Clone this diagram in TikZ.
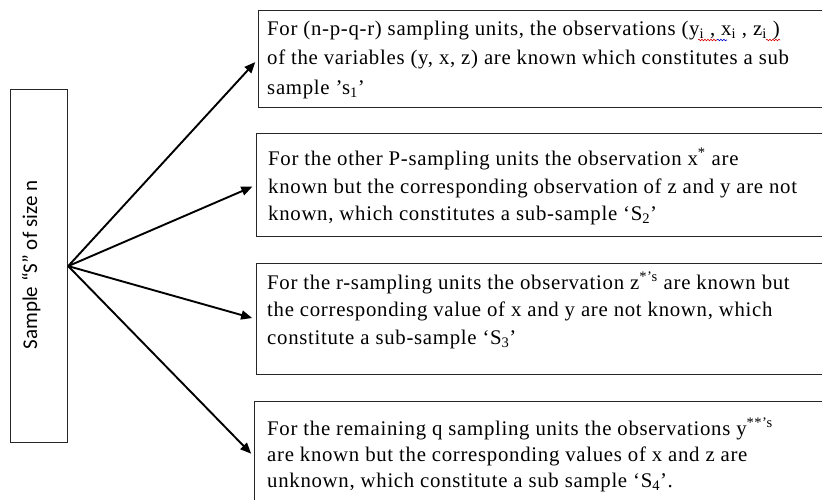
\documentclass[tikz,border=0pt]{standalone}
\usepackage{fontspec}
\setmainfont[LetterSpace=3.4]{Liberation Serif}
\newfontfamily\labelsans{Carlito}
\usetikzlibrary{arrows.meta,decorations.pathmorphing}
\begin{document}
\begin{tikzpicture}[x=1pt,y=-1pt,
  panel/.style={draw=black!85, line width=1.2pt, anchor=north west, inner sep=0pt},
  body/.style={anchor=base west, inner sep=0pt, align=left},
  link/.style={line width=1.9pt, -{Triangle[length=11pt,width=9pt]}, shorten >=4pt},
  squiggle/.style={red!85!black, line width=0.6pt, decorate,
    decoration={snake, amplitude=0.8pt, segment length=3pt}}]
\useasboundingbox (0,0) rectangle (822,499);
\clip (0,0) rectangle (822,499);

% source box with rotated label
\node[panel, minimum width=57pt, minimum height=353pt] (src) at (10,89) {};
\node[anchor=base, rotate=90, inner sep=0pt, font=\labelsans\fontsize{21}{21}\selectfont]
  (srclabel) at (37,265) {Sample “S” of size n};

% the four sub-sample boxes
\node[panel, minimum width=600pt, minimum height=97pt]  (b1) at (258,10) {};
\node[panel, minimum width=600pt, minimum height=103pt] (b2) at (256,133) {};
\node[panel, minimum width=600pt, minimum height=111pt] (b3) at (256,263) {};
\node[panel, minimum width=600pt, minimum height=110pt] (b4) at (254,401) {};

% text blocks, placed by the baseline of their last line
\node[body, font=\fontsize{20.8}{29.5}\selectfont] (t1) at (267,94)
  {For (n-p-q-r) sampling units, the observations (y\textsubscript{i} , x\textsubscript{i} , z\textsubscript{i} )\\
   of the variables (y, x, z) are known which constitutes a sub\\
   sample ’s\textsubscript{1}’};
\node[body, font=\fontsize{20.8}{27.5}\selectfont] (t2) at (268,220.5)
  {For the other P-sampling units the observation x\textsuperscript{*} are\\
   known but the corresponding observation of z and y are not\\
   known, which constitutes a sub-sample ‘S\textsubscript{2}’};
\node[body, font=\fontsize{20.8}{27.5}\selectfont] (t3) at (267,344)
  {For the r-sampling units the observation z\textsuperscript{*’s} are known but\\
   the corresponding value of x and y are not known, which\\
   constitute a sub-sample ‘S\textsubscript{3}’};
\node[body, font=\fontsize{20.8}{26}\selectfont] (t4) at (267,487)
  {For the remaining q sampling units the observations y\textsuperscript{**’s}\\
   are known but the corresponding values of x and z are\\
   unknown, which constitute a sub sample ‘S\textsubscript{4}’.};

% spell-check marks under the subscripted variables
\draw[squiggle] (698,40) -- (717,40);
\draw[squiggle, blue!80!black] (717,40) -- (727,40);
\draw[squiggle] (766,40) -- (780,40);

% connectors
\draw[link] (src.east) -- (b1.west);
\draw[link] (src.east) -- (b2.west);
\draw[link] (src.east) -- (b3.west);
\draw[link] (src.east) -- (b4.west);
\end{tikzpicture}
\end{document}
